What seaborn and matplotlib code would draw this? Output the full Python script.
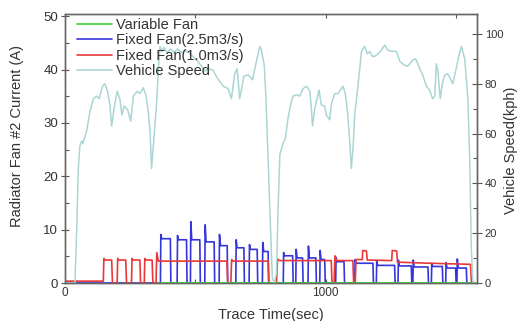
import numpy as np
import pandas as pd
import matplotlib
matplotlib.use("Agg")
import matplotlib.pyplot as plt
import seaborn as sns
from matplotlib.ticker import MultipleLocator

# ---------------- data ----------------
speed_t = [0, 38, 45, 51, 57, 64, 68, 83, 96, 109, 121, 131, 144, 153, 163, 172, 179, 188, 200, 211,
           218, 227, 240, 252, 262, 277, 287, 300, 310, 319, 326, 332, 341, 351, 357, 364, 372, 380,
           392, 405, 418, 432, 445, 460, 475, 491, 517, 536, 548, 567, 586, 607, 626, 638, 651, 660,
           670, 686, 702, 719, 734, 747, 753, 764, 770, 779, 788, 795, 803, 811, 817, 824, 836, 845,
           855, 866, 874, 888, 900, 913, 926, 939, 945, 949, 958, 974, 983, 996, 1002, 1015, 1022,
           1034, 1047, 1066, 1075, 1083, 1090, 1098, 1105, 1111, 1124, 1137, 1149, 1160, 1169, 1178,
           1188, 1200, 1210, 1226, 1238, 1255, 1271, 1284, 1300, 1314, 1334, 1345, 1353, 1365, 1372,
           1386, 1398, 1410, 1418, 1424, 1430, 1439, 1447, 1456, 1468, 1478, 1487, 1500, 1510, 1520,
           1533, 1545, 1552, 1558, 1563, 1568]
speed_v = [0, 0, 22, 46, 55, 57, 56, 61, 69, 74, 75, 74, 79, 80, 77, 71.6, 63, 70, 77, 73.6,
           67.5, 71, 69.6, 65, 75, 77, 76, 78.4, 75.6, 69, 61, 46, 58, 71.6, 83.6, 95, 93, 94.5,
           92.5, 94, 92.5, 94, 92.5, 93.5, 92.5, 91, 88, 85, 86, 85.6, 82, 79, 78, 74, 84, 86,
           74, 83, 83.6, 81.6, 89, 95, 93.6, 87.5, 75.6, 49, 22, 2, 0, 4, 29, 51.6, 56, 58,
           66, 72, 75, 75.6, 75, 78, 79, 77, 70, 63, 70, 77.5, 71.5, 71, 67.5, 65.5, 72,
           76, 76, 79, 76, 69, 60, 46, 55, 67.5, 79.6, 93, 95, 92, 93, 91,
           91, 92, 93, 95.5, 93.5, 93, 93, 89, 87.5, 87, 89.5, 90, 88, 85, 83.5,
           79, 77.5, 74, 75, 88, 85, 74, 80, 83.5, 84, 82, 80, 86, 91, 95,
           90, 74, 50, 15, 2, 0]

red_t = [0, 147, 149, 153, 179, 182, 200, 202, 206, 233, 236, 255, 257, 261, 287, 290, 304, 306, 310,
         334, 337, 349, 352, 358, 621, 624, 636, 639, 645, 779, 782, 811, 815, 822, 1021, 1024, 1032,
         1035, 1041, 1104, 1107, 1113, 1116, 1140, 1142, 1156, 1159, 1253, 1255, 1272, 1275, 1400,
         1555, 1559]
red_a = [0.35, 0.35, 4.6, 4.3, 4.3, 0, 0, 4.6, 4.3, 4.3, 0, 0, 4.6, 4.3, 4.3, 0, 0, 4.6, 4.3,
         4.3, 0, 0, 5.7, 4.1, 4.1, 0, 0, 4.4, 4.1, 4.1, 0, 0, 4.5, 4.2, 4.2, 0, 0,
         5.1, 4.2, 4.2, 0, 0, 4.4, 4.4, 6.1, 6.0, 4.3, 4.2, 6.1, 6.0, 3.9, 3.7,
         3.5, 0]

blue_start = [366, 430, 481, 536, 591, 655, 706, 757, 837, 885, 932, 977, 1038, 1111, 1194, 1277,
              1334, 1405, 1460, 1503]
blue_end = [404, 466, 517, 572, 622, 686, 737, 779, 873, 911, 962, 996, 1070, 1181, 1264, 1328,
            1392, 1447, 1498, 1539]
blue_peak = [9.1, 8.9, 11.5, 10.9, 9.1, 8.1, 7.2, 7.6, 5.7, 6.3, 6.9, 6.1, 4.8, 4.4, 4.2, 4.3,
             4.3, 3.7, 3.8, 4.5]
blue_plateau = [8.3, 8.1, 8.1, 7.7, 7.0, 6.6, 6.3, 5.9, 5.1, 4.7, 4.7, 4.4, 4.0, 3.7, 3.3, 3.2,
                3.0, 3.1, 2.8, 2.8]

green_t = [355, 1575]
green_a = [0, 0]

labels = ["Variable Fan", "Fixed Fan(2.5m3/s)", "Fixed Fan(1.0m3/s)", "Vehicle Speed"]
colors = ["#3ccf3c", "#3535dc", "#e83838", "#a9d6d4"]

# build blue waveform table from the pulse list
bt, ba = [0.0], [0.0]
for s, e, p, q in zip(blue_start, blue_end, blue_peak, blue_plateau):
    bt += [s, s + 1.5, s + 5, e, e + 2]
    ba += [0, p, q, q, 0]
bt.append(1560); ba.append(0)

df_blue = pd.DataFrame({"t": bt, "a": ba})
df_red = pd.DataFrame({"t": red_t, "a": red_a})
df_green = pd.DataFrame({"t": green_t, "a": green_a})
df_speed = pd.DataFrame({"t": speed_t, "v": speed_v})

# ---------------- plot ----------------
sns.set_style("white")
plt.rcParams["font.family"] = ["Liberation Sans", "DejaVu Sans"]

fig = plt.figure(figsize=(5.21, 3.21), dpi=100)
ax = fig.add_axes([65 / 521, 1 - 283 / 321, 412 / 521, 269 / 321])
ax2 = ax.twinx()

sns.lineplot(data=df_blue, x="t", y="a", ax=ax, color=colors[1], lw=1.2,
             estimator=None, sort=False, zorder=3)
sns.lineplot(data=df_red, x="t", y="a", ax=ax, color=colors[2], lw=1.2,
             estimator=None, sort=False, zorder=4)
sns.lineplot(data=df_green, x="t", y="a", ax=ax, color=colors[0], lw=1.3,
             estimator=None, sort=False, zorder=5)
sns.lineplot(data=df_speed, x="t", y="v", ax=ax2, color=colors[3], lw=1.1,
             estimator=None, sort=False, zorder=2)

ax.set_xlim(0, 1580)
ax.set_ylim(0, 50.4)
ax2.set_ylim(0, 108)

ax.xaxis.set_major_locator(MultipleLocator(1000))
ax.xaxis.set_minor_locator(MultipleLocator(500))
ax.yaxis.set_major_locator(MultipleLocator(10))
ax.yaxis.set_minor_locator(MultipleLocator(5))
ax2.yaxis.set_major_locator(MultipleLocator(20))
ax2.yaxis.set_minor_locator(MultipleLocator(10))

tc = "#333333"
ax.tick_params(axis="x", which="both", direction="in", top=True, bottom=True,
               length=3, width=0.8, colors="#555555", labelcolor=tc, labelsize=8.5, pad=3)
ax.tick_params(axis="y", which="major", direction="inout", length=6, width=0.8,
               colors="#555555", labelcolor=tc, labelsize=9.5, pad=2)
ax.tick_params(axis="y", which="minor", direction="in", length=3, width=0.8, colors="#555555")
ax2.tick_params(axis="y", which="major", direction="inout", length=7, width=0.8,
                colors="#555555", labelcolor=tc, labelsize=8, pad=2)
ax2.tick_params(axis="y", which="minor", direction="in", length=3, width=0.8, colors="#555555")

for a in (ax, ax2):
    for sp in a.spines.values():
        sp.set_color("#666666")
        sp.set_linewidth(1.0)

ax.set_xlabel("Trace Time(sec)", fontsize=10.5, color=tc, labelpad=6)
ax.set_ylabel("Radiator Fan #2 Current (A)", fontsize=10.5, color=tc)
ax2.set_ylabel("Vehicle Speed(kph)", fontsize=10.5, color=tc)
ax.yaxis.set_label_coords((24 - 65) / 412, (283 - 136) / 269)
ax2.yaxis.set_label_coords((504 - 65) / 412, (283 - 150) / 269)

handles = [plt.Line2D([], [], color=c, lw=1.2) for c in colors]
leg = ax2.legend(handles, labels, loc="upper left", bbox_to_anchor=(0.03, 0.985),
                 frameon=False, fontsize=10.5, handlelength=2.4, handletextpad=0.25,
                 labelspacing=0.1, borderaxespad=0, borderpad=0)
for t in leg.get_texts():
    t.set_color(tc)

fig.savefig("out.png", dpi=100)
